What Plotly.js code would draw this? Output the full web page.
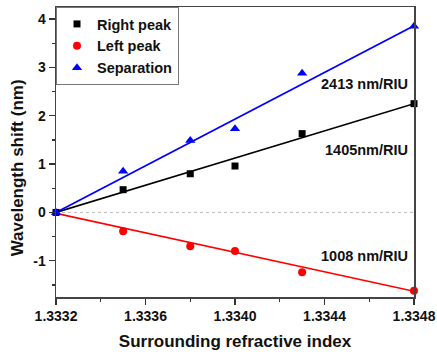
<!DOCTYPE html>
<html><head><meta charset="utf-8">
<script src="https://cdn.plot.ly/plotly-3.0.1.min.js"></script>
<style>body{margin:0;background:#fff}#c{width:437px;height:352px}</style>
</head><body><div id="c"></div>
<script>
const ri = [1.3332, 1.3335, 1.3338, 1.3340, 1.3343, 1.3348];
const rightPeak = [0, 0.47, 0.80, 0.96, 1.63, 2.25];
const leftPeak = [-0.02, -0.39, -0.70, -0.80, -1.24, -1.62];
const separation = [0, 0.85, 1.49, 1.73, 2.88, 3.85];
const seriesNames = ['Right peak', 'Left peak', 'Separation'];
const seriesColors = ['#000000', '#ff0000', '#0000ff'];
const fitSlopes = [1405, -1008, 2413];
const fitIntercepts = [0, -0.02, 0];
const fitLabels = ['1405nm/RIU', '1008 nm/RIU', '2413 nm/RIU'];
const fitLabelY = [1.30, -0.90, 2.66];
const fitX = [1.3332, 1.3348];
const yTickVals = [-1, 0, 1, 2, 3, 4];
const yTickText = ['-1', '0', '1', '2', '3', '4'];

const symbols = ['square', 'circle', 'triangle-up'];
const sizes = [7, 8, 9];
const data = [rightPeak, leftPeak, separation];
const traces = [];
traces.push({x: fitX, y: [0, 0], mode: 'lines', line: {color: '#bbbbbb', width: 1, dash: 'dot'}, showlegend: false, hoverinfo: 'skip'});
data.forEach((ys, i) => {
  traces.push({
    x: fitX, y: fitX.map(x => fitIntercepts[i] + fitSlopes[i] * (x - fitX[0])),
    mode: 'lines', line: {color: seriesColors[i], width: 1.6}, showlegend: false, hoverinfo: 'skip', cliponaxis: false
  });
});
data.forEach((ys, i) => {
  traces.push({
    x: ri.slice(i === 1 ? 1 : 0), y: ys.slice(i === 1 ? 1 : 0), name: seriesNames[i],
    mode: 'markers', marker: {color: seriesColors[i], symbol: symbols[i], size: sizes[i]}, cliponaxis: false
  });
});

const fam = 'Liberation Sans, Arial, sans-serif';
const bold = (s) => ({size: s, weight: 'bold', family: fam, color: '#111'});
const layout = {
  width: 437, height: 352,
  margin: {l: 56, r: 23, t: 7, b: 55},
  paper_bgcolor: '#fff', plot_bgcolor: '#fff',
  font: {family: fam, color: '#111'},
  showlegend: true,
  legend: {x: 0, y: 1, xanchor: 'left', yanchor: 'top', bordercolor: '#777', borderwidth: 1,
    font: bold(14.5), bgcolor: '#fff', tracegroupgap: 0, traceorder: 'normal'},
  xaxis: {
    range: [1.3332, 1.3348], dtick: 0.0004, tick0: 1.3332, tickformat: '.4f',
    ticks: 'outside', ticklen: 6, tickwidth: 1.2, tickcolor: '#333',
    minor: {dtick: 0.0002, ticks: 'outside', ticklen: 3, tickcolor: '#333'},
    showline: true, linecolor: '#444', linewidth: 1.5, mirror: true,
    showgrid: false, zeroline: false,
    tickfont: bold(14),
    title: {text: 'Surrounding refractive index', font: bold(17), standoff: 12}
  },
  yaxis: {
    range: [-1.75, 4.25], tickmode: 'array', tickvals: yTickVals, ticktext: yTickText,
    ticks: 'outside', ticklen: 6, tickwidth: 1.2, tickcolor: '#333',
    minor: {tickmode: 'linear', dtick: 0.5, tick0: 0, ticks: 'outside', ticklen: 3, tickcolor: '#333'},
    showline: true, linecolor: '#444', linewidth: 1.5, mirror: true,
    showgrid: false, zeroline: false,
    tickfont: bold(14)
  },
  annotations: [
    {xref: 'paper', yref: 'paper', x: -0.105, y: 0.445, textangle: -90, text: 'Wavelength shift (nm)',
     showarrow: false, font: bold(17), xanchor: 'center', yanchor: 'middle'}
  ].concat(fitLabels.map((t, i) => ({x: 1.334782, y: fitLabelY[i], text: t, xanchor: 'right', showarrow: false, font: bold(14.5)})))
};
Plotly.newPlot('c', traces, layout, {displayModeBar: false, staticPlot: true});
</script></body></html>
